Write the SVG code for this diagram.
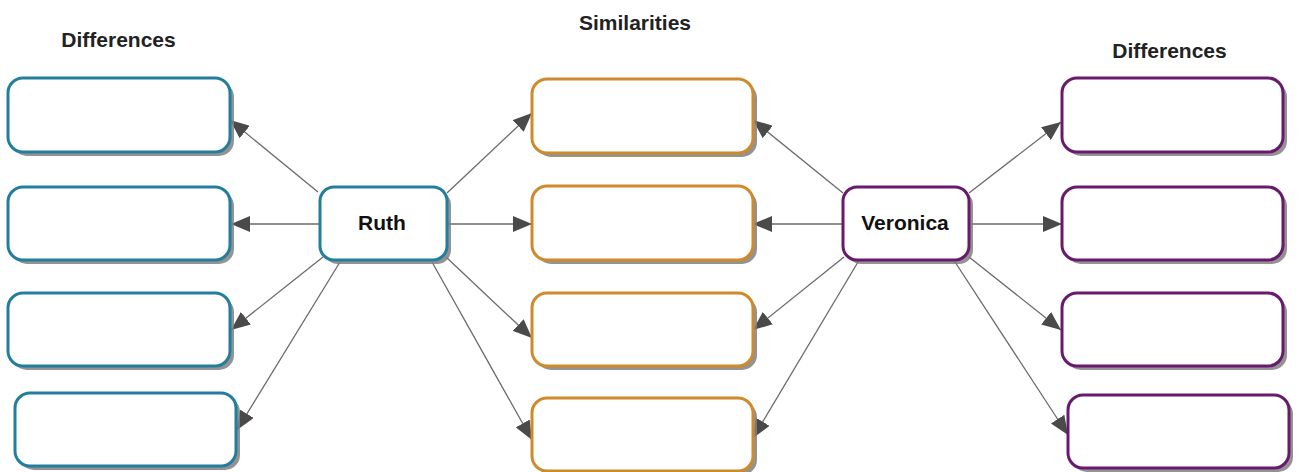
<svg xmlns="http://www.w3.org/2000/svg" width="1309" height="472" viewBox="0 0 1309 472">
<style>
.lbl{font-family:"Liberation Sans",Arial,sans-serif;font-weight:bold;font-size:21px;fill:#222;text-anchor:middle}
.nm{font-family:"Liberation Sans",Arial,sans-serif;font-weight:bold;font-size:21px;fill:#111;text-anchor:middle}
.sh{fill:#808080;opacity:0.85}
.t{fill:#fff;stroke:#237e9e;stroke-width:3}
.o{fill:#fff;stroke:#cf8a2c;stroke-width:3}
.p{fill:#fff;stroke:#6a1a6c;stroke-width:3}
.c line{stroke:#6a6a6a;stroke-width:1.3;marker-end:url(#ah)}
</style>
<defs>
<marker id="ah" markerUnits="userSpaceOnUse" markerWidth="20" markerHeight="16" refX="19" refY="8" orient="auto">
<path d="M0,0 L19,8 L0,16 Z" fill="#4a4a4a"/>
</marker>
</defs>
<rect width="1309" height="472" fill="#fff"/>
<text class="lbl" x="118.5" y="47">Differences</text>
<text class="lbl" x="635" y="30">Similarities</text>
<text class="lbl" x="1169.5" y="58">Differences</text>

<g id="connectors" class="c">
<line x1="318" y1="192" x2="230" y2="120"/>
<line x1="320" y1="224" x2="231" y2="224"/>
<line x1="323" y1="257" x2="231" y2="330"/>
<line x1="340" y1="262" x2="237" y2="430"/>
<line x1="447" y1="193" x2="532" y2="113"/>
<line x1="447" y1="224" x2="532" y2="224"/>
<line x1="446" y1="257" x2="532" y2="338"/>
<line x1="432" y1="262" x2="532" y2="440"/>
<line x1="843" y1="193" x2="753" y2="120"/>
<line x1="843" y1="224" x2="753" y2="224"/>
<line x1="844" y1="257" x2="753" y2="330"/>
<line x1="858" y1="262" x2="753" y2="438"/>
<line x1="969" y1="193" x2="1061" y2="122"/>
<line x1="969" y1="224" x2="1062" y2="224"/>
<line x1="969" y1="257" x2="1061" y2="330"/>
<line x1="955" y1="262" x2="1068" y2="435"/>
</g>

<g id="ruth"><rect class="sh" x="324" y="191" width="127" height="73" rx="14"/><rect class="t" x="320" y="187" width="127" height="73" rx="14"/><text class="nm" x="382" y="230">Ruth</text></g>
<g id="veronica"><rect class="sh" x="847" y="191" width="126" height="73" rx="14"/><rect class="p" x="843" y="187" width="126" height="73" rx="14"/><text class="nm" x="905" y="230">Veronica</text></g>

<g id="l1"><rect class="sh" x="12" y="82" width="222" height="74" rx="15"/><rect class="t" x="8" y="78" width="222" height="74" rx="15"/></g>
<g id="l2"><rect class="sh" x="12" y="191" width="222" height="73" rx="15"/><rect class="t" x="8" y="187" width="222" height="73" rx="15"/></g>
<g id="l3"><rect class="sh" x="12" y="297" width="222" height="73" rx="15"/><rect class="t" x="8" y="293" width="222" height="73" rx="15"/></g>
<g id="l4"><rect class="sh" x="19" y="397" width="221" height="73" rx="15"/><rect class="t" x="15" y="393" width="221" height="73" rx="15"/></g>

<g id="m1"><rect class="sh" x="536" y="83" width="221" height="74" rx="15"/><rect class="o" x="532" y="79" width="221" height="74" rx="15"/></g>
<g id="m2"><rect class="sh" x="536" y="190" width="221" height="74" rx="15"/><rect class="o" x="532" y="186" width="221" height="74" rx="15"/></g>
<g id="m3"><rect class="sh" x="536" y="297" width="221" height="73" rx="15"/><rect class="o" x="532" y="293" width="221" height="73" rx="15"/></g>
<g id="m4"><rect class="sh" x="536" y="402" width="221" height="73" rx="15"/><rect class="o" x="532" y="398" width="221" height="73" rx="15"/></g>

<g id="r1"><rect class="sh" x="1066" y="82" width="221" height="74" rx="15"/><rect class="p" x="1062" y="78" width="221" height="74" rx="15"/></g>
<g id="r2"><rect class="sh" x="1066" y="191" width="221" height="73" rx="15"/><rect class="p" x="1062" y="187" width="221" height="73" rx="15"/></g>
<g id="r3"><rect class="sh" x="1066" y="297" width="221" height="73" rx="15"/><rect class="p" x="1062" y="293" width="221" height="73" rx="15"/></g>
<g id="r4"><rect class="sh" x="1072" y="399" width="221" height="73" rx="15"/><rect class="p" x="1068" y="395" width="221" height="73" rx="15"/></g>
</svg>
